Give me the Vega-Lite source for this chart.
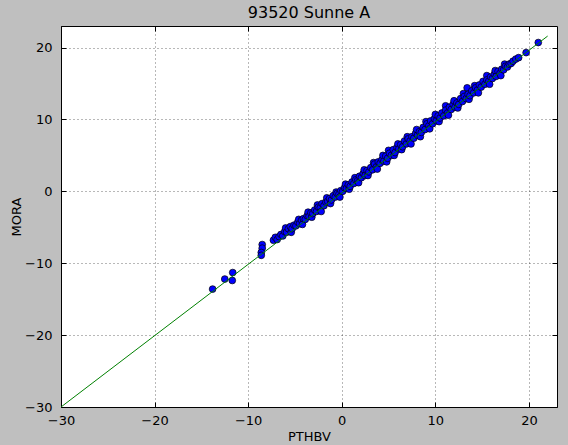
{
  "$schema": "https://vega.github.io/schema/vega-lite/v6.json",
  "width": 496,
  "height": 381,
  "autosize": {"type": "none"},
  "padding": {"left": 61, "top": 26, "right": 11, "bottom": 38},
  "background": "#bfbfbf",
  "title": {
    "text": "93520 Sunne A",
    "font": "DejaVu Sans",
    "fontSize": 16,
    "fontWeight": "normal",
    "color": "#000000",
    "offset": 5
  },
  "datasets": {
    "points": [
      {"PTHBV": -13.8, "MORA": -13.6},
      {"PTHBV": -12.5, "MORA": -12.2},
      {"PTHBV": -11.7, "MORA": -12.4},
      {"PTHBV": -11.65, "MORA": -11.3},
      {"PTHBV": -8.5, "MORA": -7.4},
      {"PTHBV": -8.5, "MORA": -7.9},
      {"PTHBV": -8.6, "MORA": -8.5},
      {"PTHBV": -8.6, "MORA": -8.9},
      {"PTHBV": -7.3, "MORA": -6.8},
      {"PTHBV": -7.1, "MORA": -6.4},
      {"PTHBV": -6.9, "MORA": -6.7},
      {"PTHBV": -6.7, "MORA": -6.3},
      {"PTHBV": -6.5, "MORA": -6.0},
      {"PTHBV": -6.3, "MORA": -6.2},
      {"PTHBV": -6.1, "MORA": -5.6},
      {"PTHBV": -6.0, "MORA": -5.1},
      {"PTHBV": -5.9, "MORA": -5.7},
      {"PTHBV": -5.7, "MORA": -5.2},
      {"PTHBV": -5.5, "MORA": -4.9},
      {"PTHBV": -5.4, "MORA": -5.7},
      {"PTHBV": -5.3, "MORA": -5.2},
      {"PTHBV": -5.1, "MORA": -4.7},
      {"PTHBV": -4.9, "MORA": -4.8},
      {"PTHBV": -4.7, "MORA": -4.3},
      {"PTHBV": -4.6, "MORA": -3.9},
      {"PTHBV": -4.5, "MORA": -4.5},
      {"PTHBV": -4.3, "MORA": -4.0},
      {"PTHBV": -4.2, "MORA": -4.6},
      {"PTHBV": -4.1, "MORA": -3.8},
      {"PTHBV": -3.9, "MORA": -3.9},
      {"PTHBV": -3.7, "MORA": -3.4},
      {"PTHBV": -3.6, "MORA": -2.9},
      {"PTHBV": -3.5, "MORA": -3.5},
      {"PTHBV": -3.3, "MORA": -3.0},
      {"PTHBV": -3.2, "MORA": -3.6},
      {"PTHBV": -3.1, "MORA": -3.1},
      {"PTHBV": -2.9, "MORA": -2.6},
      {"PTHBV": -2.7, "MORA": -2.8},
      {"PTHBV": -2.6, "MORA": -1.9},
      {"PTHBV": -2.5, "MORA": -2.2},
      {"PTHBV": -2.3, "MORA": -2.3},
      {"PTHBV": -2.2, "MORA": -2.8},
      {"PTHBV": -2.1, "MORA": -1.7},
      {"PTHBV": -1.9, "MORA": -2.0},
      {"PTHBV": -1.7, "MORA": -1.5},
      {"PTHBV": -1.6, "MORA": -0.9},
      {"PTHBV": -1.5, "MORA": -1.4},
      {"PTHBV": -1.3, "MORA": -1.0},
      {"PTHBV": -1.2, "MORA": -1.7},
      {"PTHBV": -1.1, "MORA": -1.2},
      {"PTHBV": -0.9, "MORA": -0.6},
      {"PTHBV": -0.7, "MORA": -0.8},
      {"PTHBV": -0.6, "MORA": -0.1},
      {"PTHBV": -0.5, "MORA": -0.3},
      {"PTHBV": -0.3, "MORA": -0.4},
      {"PTHBV": -0.2, "MORA": -0.8},
      {"PTHBV": -0.1, "MORA": 0.1},
      {"PTHBV": 0.1, "MORA": 0.0},
      {"PTHBV": 0.3, "MORA": 0.5},
      {"PTHBV": 0.4, "MORA": 1.0},
      {"PTHBV": 0.5, "MORA": 0.4},
      {"PTHBV": 0.7, "MORA": 0.9},
      {"PTHBV": 0.8, "MORA": 0.3},
      {"PTHBV": 0.9, "MORA": 0.7},
      {"PTHBV": 1.1, "MORA": 1.3},
      {"PTHBV": 1.3, "MORA": 1.1},
      {"PTHBV": 1.4, "MORA": 1.9},
      {"PTHBV": 1.5, "MORA": 1.6},
      {"PTHBV": 1.7, "MORA": 1.5},
      {"PTHBV": 1.8, "MORA": 1.2},
      {"PTHBV": 1.9, "MORA": 2.1},
      {"PTHBV": 2.1, "MORA": 1.9},
      {"PTHBV": 2.3, "MORA": 2.5},
      {"PTHBV": 2.4, "MORA": 3.0},
      {"PTHBV": 2.5, "MORA": 2.2},
      {"PTHBV": 2.7, "MORA": 2.9},
      {"PTHBV": 2.8, "MORA": 2.2},
      {"PTHBV": 2.9, "MORA": 2.7},
      {"PTHBV": 3.1, "MORA": 3.3},
      {"PTHBV": 3.3, "MORA": 3.0},
      {"PTHBV": 3.4, "MORA": 4.0},
      {"PTHBV": 3.5, "MORA": 3.8},
      {"PTHBV": 3.7, "MORA": 3.4},
      {"PTHBV": 3.8, "MORA": 3.1},
      {"PTHBV": 3.9, "MORA": 4.1},
      {"PTHBV": 4.1, "MORA": 3.9},
      {"PTHBV": 4.3, "MORA": 4.4},
      {"PTHBV": 4.4, "MORA": 5.0},
      {"PTHBV": 4.5, "MORA": 4.2},
      {"PTHBV": 4.7, "MORA": 4.9},
      {"PTHBV": 4.8, "MORA": 4.1},
      {"PTHBV": 4.9, "MORA": 4.6},
      {"PTHBV": 5.0, "MORA": 5.7},
      {"PTHBV": 5.1, "MORA": 5.3},
      {"PTHBV": 5.3, "MORA": 5.0},
      {"PTHBV": 5.5, "MORA": 5.8},
      {"PTHBV": 5.6, "MORA": 5.0},
      {"PTHBV": 5.7, "MORA": 5.4},
      {"PTHBV": 5.9, "MORA": 6.1},
      {"PTHBV": 6.0, "MORA": 6.6},
      {"PTHBV": 6.1, "MORA": 5.9},
      {"PTHBV": 6.3, "MORA": 6.5},
      {"PTHBV": 6.4, "MORA": 5.8},
      {"PTHBV": 6.5, "MORA": 6.2},
      {"PTHBV": 6.7, "MORA": 7.0},
      {"PTHBV": 6.9, "MORA": 6.6},
      {"PTHBV": 7.0, "MORA": 7.6},
      {"PTHBV": 7.1, "MORA": 7.3},
      {"PTHBV": 7.3, "MORA": 7.0},
      {"PTHBV": 7.4, "MORA": 6.6},
      {"PTHBV": 7.5, "MORA": 7.6},
      {"PTHBV": 7.7, "MORA": 7.4},
      {"PTHBV": 7.9, "MORA": 8.1},
      {"PTHBV": 8.0, "MORA": 8.6},
      {"PTHBV": 8.1, "MORA": 7.8},
      {"PTHBV": 8.3, "MORA": 8.3},
      {"PTHBV": 8.4, "MORA": 7.6},
      {"PTHBV": 8.5, "MORA": 8.2},
      {"PTHBV": 8.7, "MORA": 8.9},
      {"PTHBV": 8.9, "MORA": 8.6},
      {"PTHBV": 9.0, "MORA": 9.7},
      {"PTHBV": 9.1, "MORA": 9.4},
      {"PTHBV": 9.3, "MORA": 9.1},
      {"PTHBV": 9.4, "MORA": 8.7},
      {"PTHBV": 9.5, "MORA": 9.8},
      {"PTHBV": 9.7, "MORA": 9.4},
      {"PTHBV": 9.9, "MORA": 10.1},
      {"PTHBV": 10.0, "MORA": 10.7},
      {"PTHBV": 10.1, "MORA": 9.8},
      {"PTHBV": 10.3, "MORA": 10.5},
      {"PTHBV": 10.4, "MORA": 9.7},
      {"PTHBV": 10.5, "MORA": 10.2},
      {"PTHBV": 10.7, "MORA": 10.9},
      {"PTHBV": 10.9, "MORA": 10.5},
      {"PTHBV": 11.1, "MORA": 11.9},
      {"PTHBV": 11.1, "MORA": 11.3},
      {"PTHBV": 11.3, "MORA": 10.9},
      {"PTHBV": 11.4, "MORA": 10.6},
      {"PTHBV": 11.5, "MORA": 11.7},
      {"PTHBV": 11.7, "MORA": 11.4},
      {"PTHBV": 11.9, "MORA": 12.1},
      {"PTHBV": 12.0, "MORA": 12.6},
      {"PTHBV": 12.1, "MORA": 11.7},
      {"PTHBV": 12.3, "MORA": 12.3},
      {"PTHBV": 12.4, "MORA": 11.6},
      {"PTHBV": 12.5, "MORA": 12.1},
      {"PTHBV": 12.7, "MORA": 12.9},
      {"PTHBV": 12.9, "MORA": 12.5},
      {"PTHBV": 13.0, "MORA": 13.6},
      {"PTHBV": 13.1, "MORA": 13.2},
      {"PTHBV": 13.3, "MORA": 12.9},
      {"PTHBV": 13.4, "MORA": 14.4},
      {"PTHBV": 13.5, "MORA": 13.5},
      {"PTHBV": 13.6, "MORA": 12.8},
      {"PTHBV": 13.7, "MORA": 13.3},
      {"PTHBV": 13.9, "MORA": 14.0},
      {"PTHBV": 14.1, "MORA": 13.7},
      {"PTHBV": 14.2, "MORA": 14.7},
      {"PTHBV": 14.3, "MORA": 14.4},
      {"PTHBV": 14.5, "MORA": 14.1},
      {"PTHBV": 14.6, "MORA": 13.7},
      {"PTHBV": 14.7, "MORA": 14.8},
      {"PTHBV": 14.9, "MORA": 14.5},
      {"PTHBV": 15.1, "MORA": 15.3},
      {"PTHBV": 15.3, "MORA": 14.9},
      {"PTHBV": 15.5, "MORA": 16.1},
      {"PTHBV": 15.5, "MORA": 15.5},
      {"PTHBV": 15.7, "MORA": 15.3},
      {"PTHBV": 15.8, "MORA": 14.9},
      {"PTHBV": 15.9, "MORA": 15.9},
      {"PTHBV": 16.1, "MORA": 15.7},
      {"PTHBV": 16.3, "MORA": 16.3},
      {"PTHBV": 16.4, "MORA": 16.8},
      {"PTHBV": 16.5, "MORA": 16.0},
      {"PTHBV": 16.7, "MORA": 16.7},
      {"PTHBV": 16.9, "MORA": 16.4},
      {"PTHBV": 17.0, "MORA": 16.1},
      {"PTHBV": 17.1, "MORA": 17.0},
      {"PTHBV": 17.3, "MORA": 16.9},
      {"PTHBV": 17.4, "MORA": 17.7},
      {"PTHBV": 17.5, "MORA": 17.4},
      {"PTHBV": 17.7, "MORA": 17.3},
      {"PTHBV": 17.9, "MORA": 17.7},
      {"PTHBV": 18.1, "MORA": 17.8},
      {"PTHBV": 18.3, "MORA": 18.1},
      {"PTHBV": 18.6, "MORA": 18.4},
      {"PTHBV": 18.9, "MORA": 18.6},
      {"PTHBV": 19.7, "MORA": 19.3},
      {"PTHBV": 21.0, "MORA": 20.7}
    ],
    "fit": [
      {"PTHBV": -30, "MORA": -30},
      {"PTHBV": 22, "MORA": 21.6}
    ]
  },
  "layer": [
    {
      "data": {"name": "points"},
      "mark": {
        "type": "point",
        "shape": "circle",
        "filled": true,
        "size": 46,
        "fill": "#0000ff",
        "stroke": "#000000",
        "strokeWidth": 0.7,
        "opacity": 1
      },
      "encoding": {
        "x": {
          "field": "PTHBV",
          "type": "quantitative",
          "scale": {"domain": [-30, 23], "nice": false, "zero": false},
          "axis": {
            "title": "PTHBV",
            "orient": "bottom",
            "values": [-30, -20, -10, 0, 10, 20],
            "labelPadding": 12,
            "titlePadding": 3
          }
        },
        "y": {
          "field": "MORA",
          "type": "quantitative",
          "scale": {"domain": [-30, 23], "nice": false, "zero": false},
          "axis": {
            "title": "MORA",
            "orient": "left",
            "values": [-30, -20, -10, 0, 10, 20],
            "labelPadding": 14,
            "titlePadding": 1
          }
        }
      }
    },
    {
      "data": {"name": "fit"},
      "mark": {"type": "line", "color": "#008000", "strokeWidth": 1, "clip": true},
      "encoding": {
        "x": {
          "field": "PTHBV",
          "type": "quantitative",
          "scale": {"domain": [-30, 23], "nice": false, "zero": false},
          "axis": {
            "orient": "top",
            "values": [-30, -20, -10, 0, 10, 20],
            "labels": false,
            "grid": false,
            "title": null
          }
        },
        "y": {
          "field": "MORA",
          "type": "quantitative",
          "scale": {"domain": [-30, 23], "nice": false, "zero": false},
          "axis": {
            "orient": "right",
            "values": [-30, -20, -10, 0, 10, 20],
            "labels": false,
            "grid": false,
            "title": null
          }
        }
      }
    }
  ],
  "resolve": {"axis": {"x": "independent", "y": "independent"}},
  "config": {
    "view": {"fill": "#ffffff", "stroke": "#000000", "strokeWidth": 1},
    "axis": {
      "domain": false,
      "grid": true,
      "gridColor": "#000000",
      "gridDash": [1, 3],
      "gridWidth": 0.8,
      "gridOpacity": 0.7,
      "tickSize": -5,
      "tickColor": "#000000",
      "tickWidth": 1,
      "labelFlush": false,
      "labelOverlap": false,
      "labelFont": "DejaVu Sans",
      "labelFontSize": 13,
      "labelColor": "#000000",
      "titleFont": "DejaVu Sans",
      "titleFontSize": 13,
      "titleFontWeight": "normal",
      "titleColor": "#000000"
    }
  }
}
